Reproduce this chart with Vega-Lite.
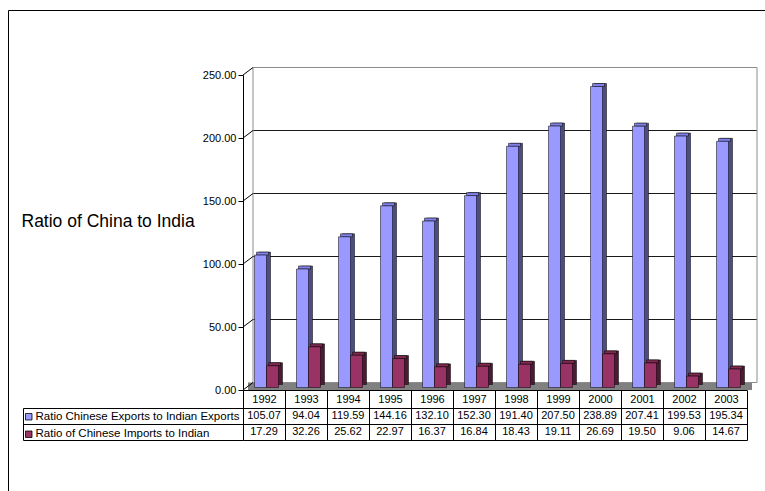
{
  "$schema": "https://vega.github.io/schema/vega-lite/v6.json",
  "width": 758,
  "height": 482,
  "padding": {"left": 8, "top": 10, "right": 0, "bottom": 0},
  "autosize": {"type": "none"},
  "background": "white",
  "config": {
    "view": {"stroke": "black", "strokeWidth": 1},
    "font": "Liberation Sans",
    "axis": {"labelFont": "Liberation Sans", "titleFont": "Liberation Sans"}
  },
  "datasets": {
    "ratios": [
      {"year": "1992", "series": "Ratio Chinese Exports to Indian Exports", "value": 105.07},
      {"year": "1993", "series": "Ratio Chinese Exports to Indian Exports", "value": 94.04},
      {"year": "1994", "series": "Ratio Chinese Exports to Indian Exports", "value": 119.59},
      {"year": "1995", "series": "Ratio Chinese Exports to Indian Exports", "value": 144.16},
      {"year": "1996", "series": "Ratio Chinese Exports to Indian Exports", "value": 132.10},
      {"year": "1997", "series": "Ratio Chinese Exports to Indian Exports", "value": 152.30},
      {"year": "1998", "series": "Ratio Chinese Exports to Indian Exports", "value": 191.40},
      {"year": "1999", "series": "Ratio Chinese Exports to Indian Exports", "value": 207.50},
      {"year": "2000", "series": "Ratio Chinese Exports to Indian Exports", "value": 238.89},
      {"year": "2001", "series": "Ratio Chinese Exports to Indian Exports", "value": 207.41},
      {"year": "2002", "series": "Ratio Chinese Exports to Indian Exports", "value": 199.53},
      {"year": "2003", "series": "Ratio Chinese Exports to Indian Exports", "value": 195.34},
      {"year": "1992", "series": "Ratio of Chinese Imports to Indian", "value": 17.29},
      {"year": "1993", "series": "Ratio of Chinese Imports to Indian", "value": 32.26},
      {"year": "1994", "series": "Ratio of Chinese Imports to Indian", "value": 25.62},
      {"year": "1995", "series": "Ratio of Chinese Imports to Indian", "value": 22.97},
      {"year": "1996", "series": "Ratio of Chinese Imports to Indian", "value": 16.37},
      {"year": "1997", "series": "Ratio of Chinese Imports to Indian", "value": 16.84},
      {"year": "1998", "series": "Ratio of Chinese Imports to Indian", "value": 18.43},
      {"year": "1999", "series": "Ratio of Chinese Imports to Indian", "value": 19.11},
      {"year": "2000", "series": "Ratio of Chinese Imports to Indian", "value": 26.69},
      {"year": "2001", "series": "Ratio of Chinese Imports to Indian", "value": 19.50},
      {"year": "2002", "series": "Ratio of Chinese Imports to Indian", "value": 9.06},
      {"year": "2003", "series": "Ratio of Chinese Imports to Indian", "value": 14.67}
    ],
    "ticks": [{"v": 0}, {"v": 50}, {"v": 100}, {"v": 150}, {"v": 200}, {"v": 250}]
  },
  "data": {"name": "ratios"},
  "layer": [
    {
      "layer": [
        {
          "data": {"values": [{}]},
          "mark": {"type": "rule", "stroke": "#808080", "strokeWidth": 7.5, "xOffset": -16, "x2Offset": 26, "yOffset": -3.75},
          "encoding": {
            "x": {"datum": "1992"},
            "x2": {"datum": "2003"},
            "y": {"datum": 0, "type": "quantitative"}
          }
        },
        {
          "data": {"name": "ticks"},
          "mark": {"type": "rule", "strokeWidth": 1, "xOffset": -11, "x2Offset": 31, "yOffset": -7.5},
          "encoding": {
            "x": {"datum": "1992"},
            "x2": {"datum": "2003"},
            "y": {"field": "v", "type": "quantitative"},
            "stroke": {"condition": {"test": "datum.v >= 250 || datum.v <= 0", "value": "#8c8c8c"}, "value": "#1a1a1a"}
          }
        },
        {
          "data": {"values": [{}]},
          "mark": {"type": "rule", "stroke": "#8c8c8c", "xOffset": -11, "yOffset": -7.5, "y2Offset": -7.5},
          "encoding": {
            "x": {"datum": "1992"},
            "y": {"datum": 0, "type": "quantitative"},
            "y2": {"datum": 250}
          }
        },
        {
          "data": {"values": [{}]},
          "mark": {"type": "rule", "stroke": "#8c8c8c", "xOffset": 31, "yOffset": -7.5, "y2Offset": -7.5},
          "encoding": {
            "x": {"datum": "2003"},
            "y": {"datum": 0, "type": "quantitative"},
            "y2": {"datum": 250}
          }
        },
        {
          "data": {"name": "ticks"},
          "mark": {"type": "rule", "stroke": "black", "xOffset": -21, "x2Offset": -11, "y2Offset": -7.5},
          "encoding": {
            "x": {"datum": "1992"},
            "x2": {"datum": "1992"},
            "y": {"field": "v", "type": "quantitative"},
            "y2": {"field": "v"}
          }
        },
        {
          "mark": {"type": "bar", "yOffset": -5.5, "y2Offset": -5.5, "stroke": "black", "strokeWidth": 0.5},
          "encoding": {
            "x": {"field": "year", "type": "nominal"},
            "xOffset": {"field": "series", "type": "nominal", "scale": {"range": [6.5, 48.5], "paddingInner": 0, "paddingOuter": 0.75}},
            "y": {"field": "value", "type": "quantitative"},
            "fill": {"condition": {"test": "datum.series === 'Ratio Chinese Exports to Indian Exports'", "value": "#4d4d80"}, "value": "#4d1a33"}
          }
        },
        {
          "mark": {"type": "bar", "yOffset": -5.5, "y2Offset": -2.5, "stroke": "black", "strokeWidth": 0.5},
          "encoding": {
            "x": {"field": "year", "type": "nominal"},
            "xOffset": {"field": "series", "type": "nominal", "scale": {"range": [4.5, 46.5], "paddingInner": 0, "paddingOuter": 0.75}},
            "y": {"field": "value", "type": "quantitative"},
            "y2": {"field": "value"},
            "fill": {"condition": {"test": "datum.series === 'Ratio Chinese Exports to Indian Exports'", "value": "#8080e6"}, "value": "#80294f"}
          }
        },
        {
          "mark": {"type": "bar", "yOffset": -2.5, "y2Offset": -2.5, "stroke": "black", "strokeWidth": 0.5},
          "encoding": {
            "x": {
              "field": "year",
              "type": "nominal",
              "scale": {
                "domain": ["1992", "1993", "1994", "1995", "1996", "1997", "1998", "1999", "2000", "2001", "2002", "2003"],
                "range": [235, 739],
                "paddingInner": 0,
                "paddingOuter": 0
              },
              "axis": {
                "orient": "bottom",
                "offset": -102,
                "title": null,
                "labelAngle": 0,
                "labelAlign": "center",
                "domainColor": "black",
                "tickColor": "black",
                "tickBand": "extent",
                "tickSize": 50,
                "labelPadding": -41,
                "labelBaseline": "middle",
                "labelFontSize": 11,
                "labelColor": "black",
                "grid": false
              }
            },
            "xOffset": {"field": "series", "type": "nominal", "scale": {"range": [2.5, 44.5], "paddingInner": 0, "paddingOuter": 0.75}},
            "y": {
              "field": "value",
              "type": "quantitative",
              "scale": {"domain": [0, 250], "range": [380, 65], "nice": false, "zero": true},
              "axis": {
                "orient": "left",
                "offset": -235,
                "values": [0, 50, 100, 150, 200, 250],
                "format": ".2f",
                "tickSize": 5,
                "tickColor": "black",
                "domainColor": "black",
                "grid": false,
                "labelFontSize": 11,
                "labelColor": "black",
                "labelPadding": 2,
                "title": "Ratio of China to India",
                "titleAngle": 0,
                "titleAlign": "left",
                "titleBaseline": "middle",
                "titleX": -222,
                "titleY": 211,
                "titleFontSize": 17.5,
                "titleFontWeight": "normal",
                "titleColor": "black"
              }
            },
            "color": {
              "field": "series",
              "type": "nominal",
              "scale": {"range": ["#9999ff", "#993366"]},
              "legend": {
                "orient": "none",
                "legendX": 15,
                "legendY": 401,
                "title": null,
                "padding": 0,
                "symbolType": "square",
                "symbolSize": 42,
                "symbolStrokeColor": "black",
                "symbolStrokeWidth": 0.8,
                "labelFont": "Liberation Sans",
                "labelFontSize": 11.5,
                "labelColor": "black",
                "labelOffset": 1,
                "rowPadding": 4.5,
                "labelLimit": 400
              }
            }
          }
        }
      ],
      "resolve": {"scale": {"xOffset": "independent"}}
    },
    {
      "mark": {"type": "text", "font": "Liberation Sans", "fontSize": 11, "color": "black", "baseline": "middle", "align": "center"},
      "encoding": {
        "x": {"field": "year", "type": "nominal"},
        "y": {
          "field": "series",
          "type": "nominal",
          "scale": {
            "type": "band",
            "domain": ["Ratio Chinese Exports to Indian Exports", "Ratio of Chinese Imports to Indian"],
            "range": [398, 430],
            "paddingInner": 0,
            "paddingOuter": 0
          },
          "axis": {
            "orient": "left",
            "offset": -15,
            "title": null,
            "labels": false,
            "tickSize": -220,
            "tickBand": "extent",
            "tickColor": "black",
            "domainColor": "black",
            "grid": true,
            "gridColor": "black",
            "gridOpacity": 1
          }
        },
        "text": {"field": "value", "type": "quantitative", "format": ".2f"}
      }
    }
  ],
  "resolve": {"scale": {"y": "independent"}}
}
